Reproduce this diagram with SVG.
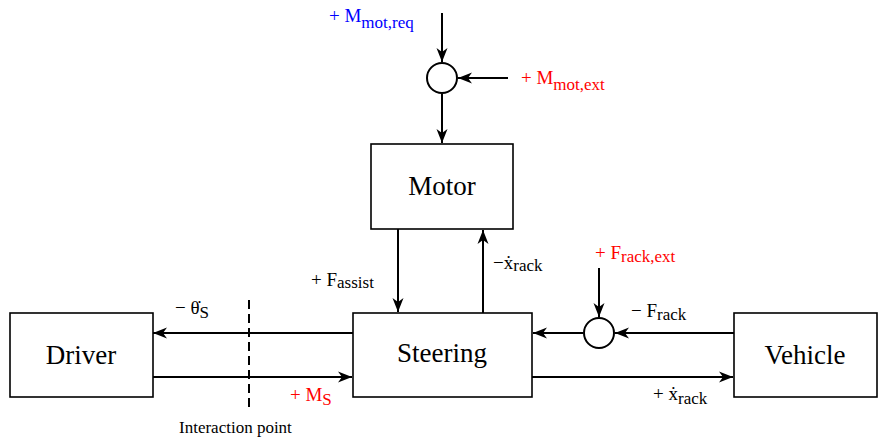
<svg xmlns="http://www.w3.org/2000/svg" width="879" height="441" viewBox="0 0 879 441">
<defs>
<marker id="ah" markerUnits="userSpaceOnUse" markerWidth="16" markerHeight="12" viewBox="-14 -6 16 12" refX="0" refY="0" orient="auto">
<path d="M0,0 L-14,-5.5 L-10,0 L-14,5.5 Z" fill="#000"/>
</marker>
</defs>
<g id="connectors" stroke="#000" stroke-width="2" fill="none">
<g marker-end="url(#ah)">
<line x1="442" y1="13" x2="442" y2="62"/>
<line x1="508" y1="78" x2="458" y2="78"/>
<line x1="442" y1="94" x2="442" y2="143"/>
<line x1="398" y1="229" x2="398" y2="312"/>
<line x1="483" y1="313" x2="483" y2="230"/>
<line x1="734" y1="333" x2="615" y2="333"/>
<line x1="583" y1="333" x2="533" y2="333"/>
<line x1="599" y1="268" x2="599" y2="317"/>
<line x1="353" y1="333" x2="153" y2="333"/>
<line x1="153" y1="377" x2="352" y2="377"/>
<line x1="532" y1="377" x2="733" y2="377"/>
</g>
<line x1="249" y1="300" x2="249" y2="412" stroke-dasharray="9,5"/>
</g>
<g fill="#fff" stroke="#000" stroke-width="2">
<g id="sum-top"><circle cx="442" cy="78" r="15"/></g>
<g id="sum-right"><circle cx="599" cy="333" r="15"/></g>
</g>
<g font-family="Liberation Serif, Times New Roman, serif" font-size="27" text-anchor="middle">
<g id="motor"><rect x="371" y="144" width="142" height="85" fill="#fff" stroke="#000" stroke-width="1.6"/><text x="442" y="195">Motor</text></g>
<g id="driver"><rect x="10" y="313" width="143" height="84" fill="#fff" stroke="#000" stroke-width="1.6"/><text x="81" y="364">Driver</text></g>
<g id="steering"><rect x="353" y="313" width="179" height="84" fill="#fff" stroke="#000" stroke-width="1.6"/><text x="442" y="362">Steering</text></g>
<g id="vehicle"><rect x="734" y="313" width="143" height="84" fill="#fff" stroke="#000" stroke-width="1.6"/><text x="805" y="364">Vehicle</text></g>
</g>
<g id="labels" font-family="Liberation Serif, Times New Roman, serif" font-size="19">
<text fill="#0000ff" x="329" y="22">+ M<tspan font-size="17" dy="6">mot,req</tspan></text>
<text fill="#ff0000" x="521" y="84">+ M<tspan font-size="17" dy="6">mot,ext</tspan></text>
<text x="311" y="286">+ F<tspan font-size="17" dy="2">assist</tspan></text>
<text x="493" y="269">&#x2212;&#x1E8B;<tspan font-size="17" dy="2">rack</tspan></text>
<text fill="#ff0000" x="595" y="259">+ F<tspan font-size="17" dy="3">rack,ext</tspan></text>
<text x="631" y="317">&#x2212; F<tspan font-size="17" dy="3">rack</tspan></text>
<text x="175" y="314">&#x2212; &#x3B8;&#x307;<tspan font-size="17" dy="4">S</tspan></text>
<text fill="#ff0000" x="290" y="401">+ M<tspan font-size="17" dy="4">S</tspan></text>
<text x="653" y="400">+ &#x1E8B;<tspan font-size="17" dy="4">rack</tspan></text>
<text x="179" y="433" font-size="17">Interaction point</text>
</g>
</svg>
